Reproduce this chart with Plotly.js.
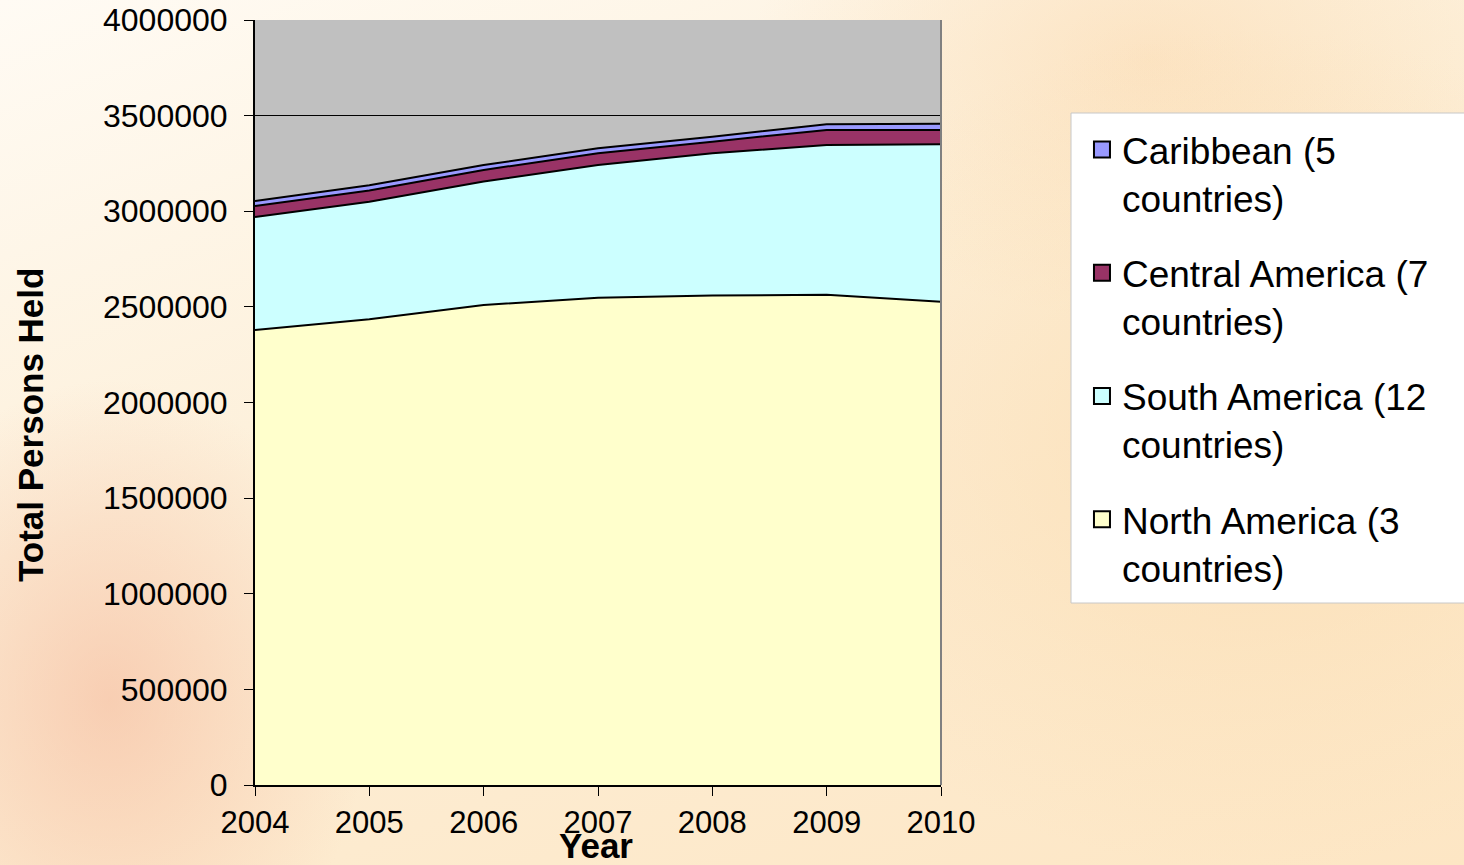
<!DOCTYPE html>
<html>
<head>
<meta charset="utf-8">
<script src="https://cdn.plot.ly/plotly-3.0.1.min.js"></script>
<style>
html, body { margin: 0; padding: 0; width: 1464px; height: 865px; overflow: hidden; }
body {
  background:
    radial-gradient(ellipse 260px 320px at 110px 700px, rgba(244,180,150,0.55), rgba(244,180,150,0) 100%),
    radial-gradient(ellipse 520px 420px at 1250px 450px, rgba(250,215,165,0.55), rgba(250,215,165,0) 100%),
    radial-gradient(ellipse 400px 260px at 1150px 60px, rgba(250,210,160,0.45), rgba(250,210,160,0) 100%),
    linear-gradient(160deg, #fffbf4 0%, #fdf0da 40%, #fde6c4 100%);
}
#chart { width: 1464px; height: 865px; }
</style>
</head>
<body>
<div id="chart"></div>
<script>
const years = [2004, 2005, 2006, 2007, 2008, 2009, 2010];
const northAmerica = [2379000, 2435000, 2510000, 2548000, 2559000, 2564000, 2527000];
const southAmerica = [591000, 615000, 645000, 694000, 744000, 783000, 823000];
const centralAmerica = [58000, 58000, 61000, 61000, 61000, 78000, 75000];
const caribbean = [26000, 28000, 26000, 26000, 26000, 30000, 33000];
const seriesNames = ["North America (3<br>countries)", "South America (12<br>countries)", "Central America (7<br>countries)", "Caribbean (5<br>countries)"];
const seriesColors = ["#FFFFCC", "#CCFFFF", "#993366", "#9999FF"];
const yTicks = [0, 500000, 1000000, 1500000, 2000000, 2500000, 3000000, 3500000, 4000000];

const values = [northAmerica, southAmerica, centralAmerica, caribbean];
const areaTraces = values.map((v, i) => ({
  type: "scatter",
  mode: "lines",
  x: years,
  y: v,
  name: seriesNames[i],
  stackgroup: "one",
  fillcolor: seriesColors[i],
  line: { color: "#000000", width: 2 },
  showlegend: false,
  hoverinfo: "x+y+name"
}));
// legend entries (square swatches), same names and colours
const legendTraces = values.map((v, i) => ({
  type: "scatter",
  mode: "markers",
  x: [null],
  y: [null],
  name: seriesNames[i],
  legendgroup: "g" + i,
  legendrank: 10 - i,
  marker: { symbol: "square", size: 16, color: seriesColors[i], line: { color: "#000000", width: 2 } },
  showlegend: true,
  hoverinfo: "skip"
}));

const font = "Liberation Sans, Arial, sans-serif";
const layout = {
  width: 1464,
  height: 865,
  margin: { l: 255, r: 523, t: 20, b: 80 },
  paper_bgcolor: "rgba(0,0,0,0)",
  plot_bgcolor: "#C0C0C0",
  showlegend: true,
  legend: {
    x: 1.2055, y: 0.8706, xanchor: "left", yanchor: "top",
    bgcolor: "rgba(0,0,0,0)", borderwidth: 0,
    traceorder: "grouped",
    tracegroupgap: 24,
    itemsizing: "trace",
    valign: "top",
    font: { family: font, size: 37, color: "#000000" }
  },
  xaxis: {
    range: [2004, 2010],
    tickvals: years,
    ticktext: years.map(String),
    ticks: "outside", ticklen: 9, tickcolor: "#000000", tickwidth: 1,
    showline: true, linecolor: "#000000", linewidth: 2,
    showgrid: false, zeroline: false,
    tickfont: { family: font, size: 31, color: "#000000" },
    fixedrange: true
  },
  yaxis: {
    range: [0, 4000000],
    tickvals: yTicks,
    ticktext: yTicks.map(String),
    ticks: "outside", ticklen: 9, tickcolor: "#000000", tickwidth: 1,
    ticklabelstandoff: 10,
    showline: true, linecolor: "#000000", linewidth: 2,
    showgrid: true, gridcolor: "#000000", gridwidth: 1,
    zeroline: false,
    tickfont: { family: font, size: 32, color: "#000000" },
    fixedrange: true
  },
  shapes: [
    { type: "line", xref: "paper", yref: "paper", x0: 1, x1: 1, y0: 0, y1: 1, line: { color: "#808080", width: 2 } },
    { type: "rect", xref: "paper", yref: "paper", layer: "above",
      x0: (1071 - 255) / 686, x1: (1480 - 255) / 686, y0: (785 - 603) / 765, y1: (785 - 113) / 765,
      fillcolor: "#FFFFFF", line: { color: "#C8C8C8", width: 1 } }
  ],
  annotations: [
    { text: "<b>Year</b>", xref: "paper", yref: "paper", x: 0.497, y: 0, yshift: -60, xanchor: "center", yanchor: "middle",
      showarrow: false, font: { family: font, size: 35, color: "#000000" } },
    { text: "<b>Total Persons Held</b>", xref: "paper", yref: "paper", x: 0, xshift: -225, y: (785 - 425) / 765,
      textangle: -90, xanchor: "center", yanchor: "middle",
      showarrow: false, font: { family: font, size: 35, color: "#000000" } }
  ]
};

Plotly.newPlot("chart", areaTraces.concat(legendTraces), layout, { displayModeBar: false, staticPlot: true });
</script>
</body>
</html>
